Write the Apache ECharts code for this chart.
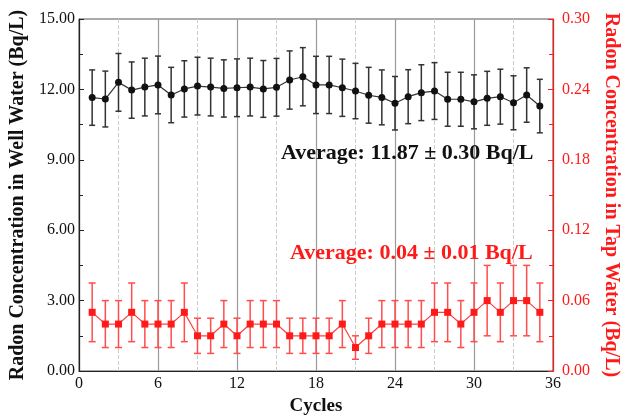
<!DOCTYPE html>
<html>
<head>
<meta charset="utf-8">
<script src="https://cdn.jsdelivr.net/npm/echarts@6/dist/echarts.min.js"></script>
<style>
  html, body { margin: 0; padding: 0; background: #fff; }
  #main { width: 631px; height: 415px; }
</style>
</head>
<body>
<div id="main"></div>
<script>
// 循环次数
var cycles = [1, 2, 3, 4, 5, 6, 7, 8, 9, 10, 11, 12, 13, 14, 15, 16, 17, 18,
  19, 20, 21, 22, 23, 24, 25, 26, 27, 28, 29, 30, 31, 32, 33, 34, 35]

// 井水 (Bq/L)
var wellValues = [11.65, 11.59, 12.30, 11.97, 12.10, 12.19, 11.76, 12.02, 12.14,
  12.10, 12.04, 12.07, 12.10, 12.02, 12.09, 12.40, 12.54, 12.19, 12.19, 12.07,
  11.93, 11.75, 11.66, 11.41, 11.69, 11.86, 11.93, 11.58, 11.58, 11.47, 11.62,
  11.69, 11.43, 11.76, 11.29]
var wellErrors = [1.18, 1.19, 1.23, 1.20, 1.23, 1.23, 1.18, 1.20, 1.23, 1.23,
  1.22, 1.23, 1.23, 1.21, 1.23, 1.24, 1.24, 1.22, 1.22, 1.22, 1.18, 1.19, 1.17,
  1.14, 1.15, 1.19, 1.21, 1.15, 1.15, 1.15, 1.15, 1.17, 1.15, 1.16, 1.14]

// 自来水 (Bq/L)
var tapValues = [0.05, 0.04, 0.04, 0.05, 0.04, 0.04, 0.04, 0.05, 0.03, 0.03,
  0.04, 0.03, 0.04, 0.04, 0.04, 0.03, 0.03, 0.03, 0.03, 0.04, 0.02, 0.03, 0.04,
  0.04, 0.04, 0.04, 0.05, 0.05, 0.04, 0.05, 0.06, 0.05, 0.06, 0.06, 0.05]
var tapErrors = [0.025, 0.02, 0.02, 0.025, 0.02, 0.02, 0.02, 0.025, 0.015, 0.015,
  0.02, 0.015, 0.02, 0.02, 0.02, 0.015, 0.015, 0.015, 0.015, 0.02, 0.01, 0.015,
  0.02, 0.02, 0.02, 0.02, 0.025, 0.025, 0.02, 0.025, 0.03, 0.025, 0.03, 0.03, 0.025]

var xTicks = [0, 6, 12, 18, 24, 30, 36]
var wellTicks = [0, 3, 6, 9, 12, 15]
var tapTicks = [0, 0.06, 0.12, 0.18, 0.24, 0.30]

var wellNote = 'Average: 11.87 ± 0.30 Bq/L'
var tapNote = 'Average: 0.04 ± 0.01 Bq/L'

var serif = '"Liberation Serif", "DejaVu Serif", serif'
var RED = '#ff1a1a'

function pairs(vals) {
  return cycles.map(function (c, i) { return [c, vals[i]] })
}
function bars(vals, errs) {
  return cycles.map(function (c, i) { return [c, vals[i] - errs[i], vals[i] + errs[i]] })
}

// 误差棒
function errorBar(color, cap) {
  return function (params, api) {
    var x = api.value(0)
    var lo = api.coord([x, api.value(1)])
    var hi = api.coord([x, api.value(2)])
    var st = { stroke: color, lineWidth: 1.5 }
    return {
      type: 'group',
      children: [
        { type: 'line', shape: { x1: lo[0], y1: lo[1], x2: hi[0], y2: hi[1] }, style: st },
        { type: 'line', shape: { x1: hi[0] - cap, y1: hi[1], x2: hi[0] + cap, y2: hi[1] }, style: st },
        { type: 'line', shape: { x1: lo[0] - cap, y1: lo[1], x2: lo[0] + cap, y2: lo[1] }, style: st }
      ]
    }
  }
}

var myChart = echarts.init(document.getElementById('main'))

myChart.setOption({
  animation: false,
  backgroundColor: '#fff',
  grid: {
    left: 79, right: 78, top: 19, bottom: 44,
    outerBoundsMode: 'none',
    show: true, borderColor: '#555', borderWidth: 1
  },
  xAxis: {
    type: 'value',
    min: xTicks[0], max: xTicks[xTicks.length - 1], interval: 6,
    name: 'Cycles',
    nameLocation: 'middle',
    nameGap: 25,
    nameTextStyle: { fontFamily: serif, fontWeight: 'bold', fontSize: 19, color: '#111' },
    axisLine: { lineStyle: { color: '#222', width: 1.2 } },
    axisTick: { show: false },
    axisLabel: { fontFamily: serif, fontSize: 16, color: '#111', margin: 5 },
    splitLine: { show: true, lineStyle: { color: '#999', width: 1.2 } },
    minorTick: { show: false, splitNumber: 2 },
    minorSplitLine: { show: true, lineStyle: { color: '#ccc', type: 'dashed', width: 1 } }
  },
  yAxis: [
    {
      type: 'value',
      min: wellTicks[0], max: wellTicks[wellTicks.length - 1], interval: 3,
      name: 'Radon Concentration in Well Water (Bq/L)',
      nameLocation: 'middle',
      nameGap: 50,
      nameTextStyle: { fontFamily: serif, fontWeight: 'bold', fontSize: 20, color: '#111' },
      axisLine: { show: true, lineStyle: { color: '#222', width: 1.2 } },
      axisTick: { show: true, inside: true, length: 5, lineStyle: { color: '#222' } },
      minorTick: { show: true, splitNumber: 2, length: 4, lineStyle: { color: '#222' } },
      axisLabel: {
        fontFamily: serif, fontSize: 16, color: '#111', margin: 4,
        formatter: function (v) { return v.toFixed(2) }
      },
      splitLine: { show: false }
    },
    {
      type: 'value',
      min: tapTicks[0], max: tapTicks[tapTicks.length - 1], interval: 0.06,
      position: 'right',
      name: 'Radon Concentration in Tap Water (Bq/L)',
      nameLocation: 'middle',
      nameRotate: -90,
      nameGap: 48,
      nameTextStyle: { fontFamily: serif, fontWeight: 'bold', fontSize: 20, color: RED },
      axisLine: { show: true, lineStyle: { color: RED, width: 1.2 } },
      axisTick: { show: true, inside: true, length: 5, lineStyle: { color: RED } },
      minorTick: { show: true, splitNumber: 2, length: 4, lineStyle: { color: RED } },
      axisLabel: {
        fontFamily: serif, fontSize: 16, color: RED, margin: 9,
        formatter: function (v) { return v.toFixed(2) }
      },
      splitLine: { show: false }
    }
  ],
  graphic: [
    {
      type: 'text', left: 281, top: 142, z: 10,
      style: { text: wellNote, fontFamily: serif, fontWeight: 'bold', fontSize: 22, fill: '#111' }
    },
    {
      type: 'text', left: 290, top: 242, z: 10,
      style: { text: tapNote, fontFamily: serif, fontWeight: 'bold', fontSize: 22, fill: RED }
    }
  ],
  series: [
    {
      type: 'custom',
      yAxisIndex: 0,
      renderItem: errorBar('#333', 3),
      encode: { x: 0, y: [1, 2] },
      data: bars(wellValues, wellErrors),
      z: 2
    },
    {
      type: 'line',
      yAxisIndex: 0,
      data: pairs(wellValues),
      symbol: 'circle',
      symbolSize: 7,
      lineStyle: { color: '#333', width: 1.2 },
      itemStyle: { color: '#111' },
      z: 3
    },
    {
      type: 'custom',
      yAxisIndex: 1,
      renderItem: errorBar('#ff4d4d', 3.5),
      encode: { x: 0, y: [1, 2] },
      data: bars(tapValues, tapErrors),
      z: 2
    },
    {
      type: 'line',
      yAxisIndex: 1,
      data: pairs(tapValues),
      symbol: 'rect',
      symbolSize: 7,
      lineStyle: { color: '#ff4040', width: 1.2 },
      itemStyle: { color: RED },
      z: 3
    }
  ]
})
</script>
</body>
</html>
